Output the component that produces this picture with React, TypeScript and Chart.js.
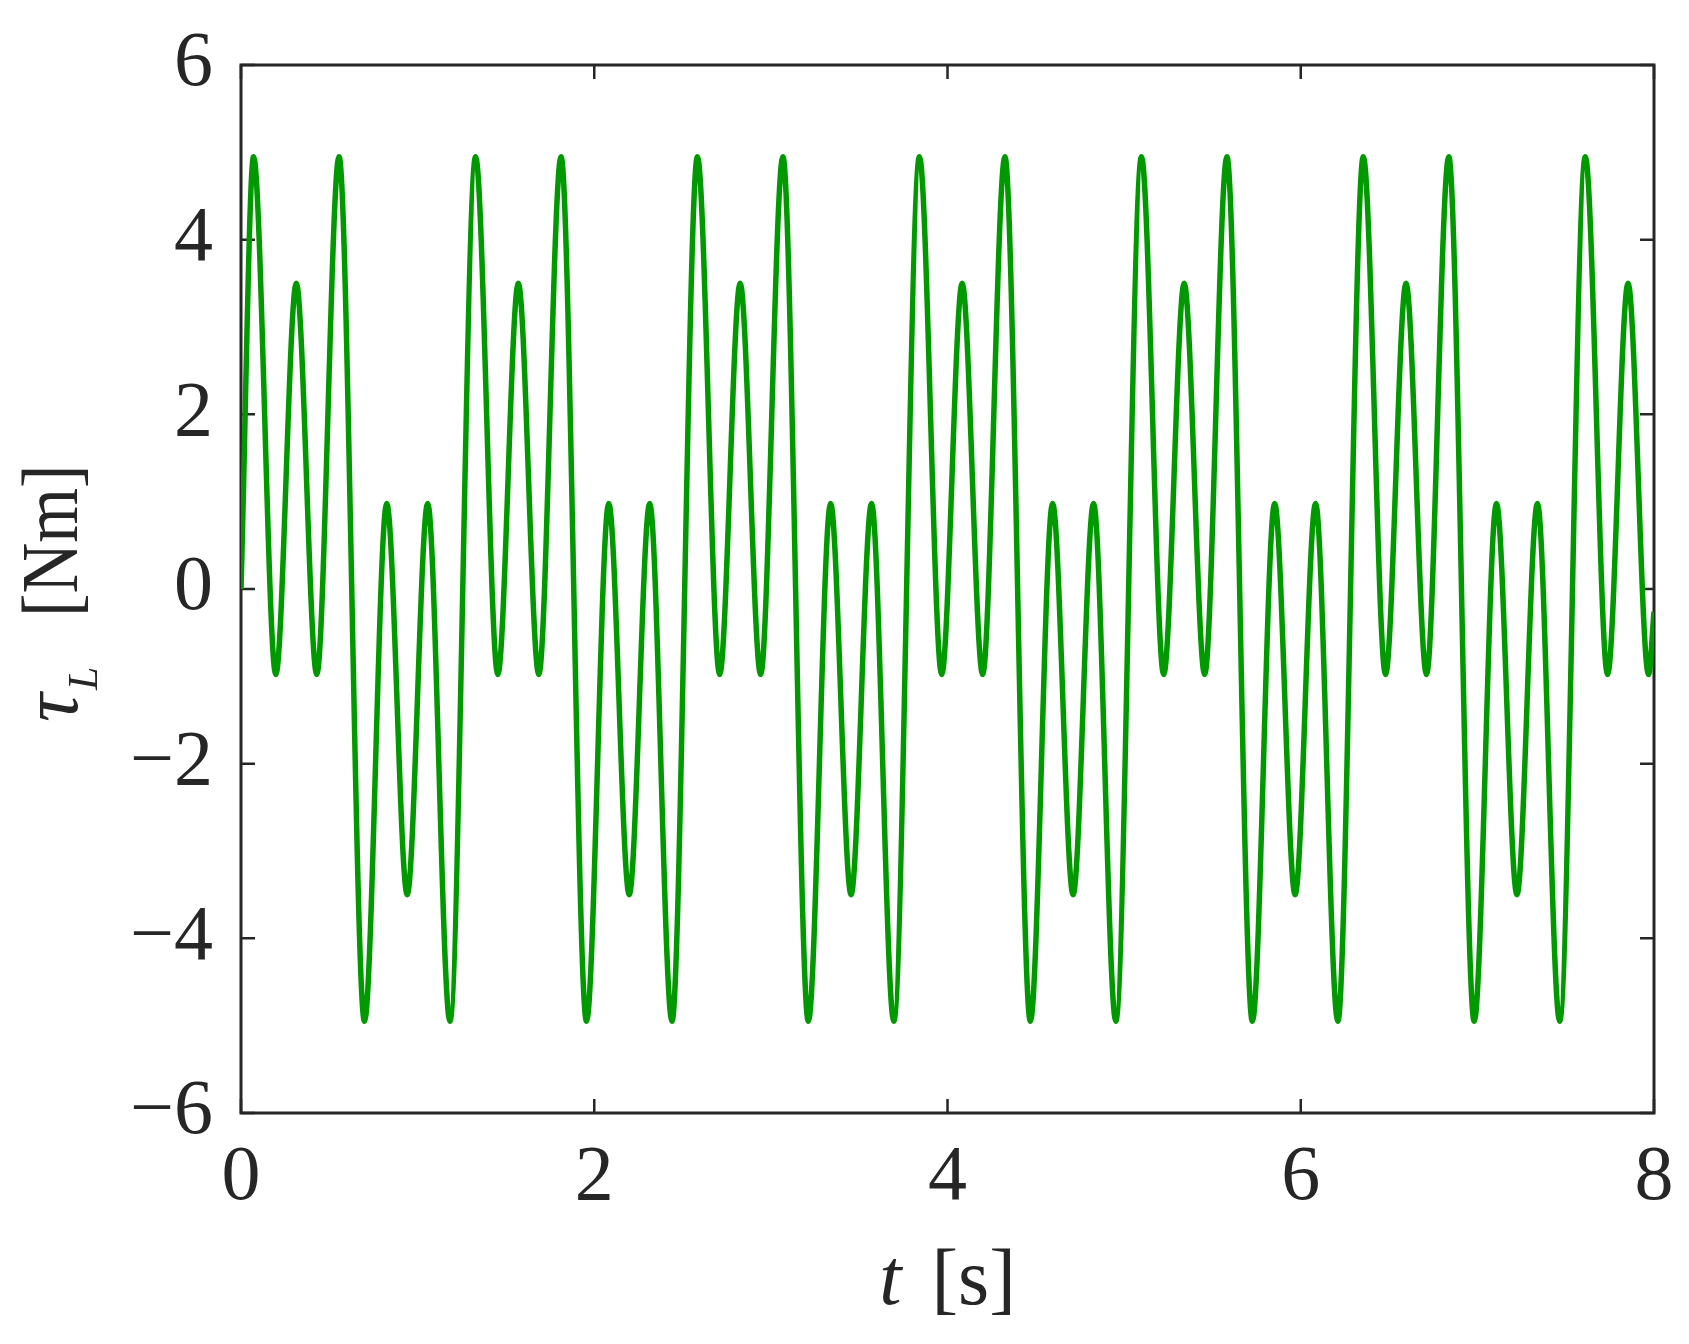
import React, { useEffect, useRef } from "react";
import { Chart, registerables } from "chart.js";

Chart.register(...registerables);

// time instants [s] of the curve's turning points
const timeS = [
  0,
  0.071, 0.197, 0.313, 0.429, 0.555, 0.699, 0.825, 0.941, 1.057, 1.183,
  1.328, 1.454, 1.570, 1.686, 1.812, 1.956, 2.082, 2.198, 2.314, 2.440,
  2.584, 2.710, 2.826, 2.942, 3.068, 3.212, 3.338, 3.454, 3.570, 3.696,
  3.841, 3.967, 4.083, 4.199, 4.325, 4.469, 4.595, 4.711, 4.827, 4.953,
  5.098, 5.224, 5.340, 5.456, 5.582, 5.726, 5.852, 5.968, 6.084, 6.210,
  6.354, 6.480, 6.596, 6.712, 6.838, 6.982, 7.108, 7.224, 7.340, 7.466,
  7.611, 7.737, 7.853, 7.969,
  8.0,
];

// load torque tau_L [Nm] at those instants
const torqueNm = [
  0,
  4.95, -0.98, 3.5, -0.98, 4.95, -4.95, 0.98, -3.5, 0.98, -4.95,
  4.95, -0.98, 3.5, -0.98, 4.95, -4.95, 0.98, -3.5, 0.98, -4.95,
  4.95, -0.98, 3.5, -0.98, 4.95, -4.95, 0.98, -3.5, 0.98, -4.95,
  4.95, -0.98, 3.5, -0.98, 4.95, -4.95, 0.98, -3.5, 0.98, -4.95,
  4.95, -0.98, 3.5, -0.98, 4.95, -4.95, 0.98, -3.5, 0.98, -4.95,
  4.95, -0.98, 3.5, -0.98, 4.95, -4.95, 0.98, -3.5, 0.98, -4.95,
  4.95, -0.98, 3.5, -0.98,
  -0.26,
];

const xTicks = [0, 2, 4, 6, 8];
const yTicks = [-6, -4, -2, 0, 2, 4, 6];

const FONT = '"Liberation Serif", "DejaVu Serif", serif';
const INK = "#262626";

const fmt = (v: number) => (v < 0 ? "\u2212" + Math.abs(v) : String(v));

const framePlugin = {
  id: "frame",
  beforeDatasetsDraw(chart: any) {
    const { ctx, chartArea: a, scales } = chart;
    ctx.save();
    ctx.strokeStyle = INK;
    ctx.lineWidth = 2.5;
    const tl = 14;
    for (const v of xTicks) {
      const px = scales.x.getPixelForValue(v);
      ctx.beginPath();
      ctx.moveTo(px, a.bottom);
      ctx.lineTo(px, a.bottom - tl);
      ctx.moveTo(px, a.top);
      ctx.lineTo(px, a.top + tl);
      ctx.stroke();
    }
    for (const v of yTicks) {
      const py = scales.y.getPixelForValue(v);
      ctx.beginPath();
      ctx.moveTo(a.left, py);
      ctx.lineTo(a.left + tl, py);
      ctx.moveTo(a.right, py);
      ctx.lineTo(a.right - tl, py);
      ctx.stroke();
    }
    ctx.lineWidth = 3;
    ctx.strokeRect(a.left, a.top, a.right - a.left, a.bottom - a.top);
    ctx.restore();
  },
  afterDraw(chart: any) {
    const { ctx, chartArea: a } = chart;
    ctx.save();
    ctx.fillStyle = INK;
    ctx.textBaseline = "alphabetic";
    // x title: italic t, upright [s]
    const italic = `italic 80px ${FONT}`;
    const upright = `80px ${FONT}`;
    ctx.font = italic;
    const wT = ctx.measureText("t").width;
    ctx.font = upright;
    const wS = ctx.measureText("[s]").width;
    const gap = 30;
    const total = wT + gap + wS;
    const cx = (a.left + a.right) / 2;
    const bx = 1304;
    const x0 = cx - total / 2;
    ctx.font = italic;
    ctx.textAlign = "left";
    ctx.fillText("t", x0, bx);
    ctx.font = upright;
    ctx.fillText("[s]", x0 + wT + gap, bx);

    // y title: tau_L [Nm], rotated (text x runs upward: canvas y = -u)
    ctx.translate(77, 0);
    ctx.rotate(-Math.PI / 2);
    ctx.textAlign = "left";
    ctx.font = italic;
    ctx.fillText("\u03C4", -722, 0);
    ctx.font = `italic 42px ${FONT}`;
    ctx.fillText("L", -690, 20);
    ctx.font = upright;
    ctx.save();
    ctx.translate(-617, 0);
    ctx.scale(0.88, 1);
    ctx.fillText("[Nm]", 0, 0);
    ctx.restore();
    ctx.restore();
  },
};

export default function App() {
  const ref = useRef<HTMLCanvasElement | null>(null);

  useEffect(() => {
    document.body.style.margin = "0";
    document.body.style.overflow = "hidden";
    const canvas = ref.current;
    if (!canvas) return;
    const points = timeS.map((t, i) => ({ x: t, y: torqueNm[i] }));
    const chart = new Chart(canvas, {
      type: "line",
      data: {
        datasets: [
          {
            data: points,
            borderColor: "#009900",
            borderWidth: 5.5,
            pointRadius: 0,
            fill: false,
            cubicInterpolationMode: "monotone",
          },
        ],
      },
      options: {
        responsive: false,
        animation: false,
        devicePixelRatio: 1,
        layout: { padding: { top: 65, right: 35, left: 0, bottom: 0 } },
        plugins: { legend: { display: false }, tooltip: { enabled: false } },
        scales: {
          x: {
            type: "linear",
            min: 0,
            max: 8,
            afterBuildTicks: (s: any) => {
              s.ticks = xTicks.map((v) => ({ value: v }));
            },
            afterFit: (s: any) => {
              s.height = 231;
              s.paddingLeft = 0;
              s.paddingRight = 0;
              s.paddingTop = 0;
              s.paddingBottom = 0;
            },
            grid: { display: false, drawTicks: false },
            border: { display: false },
            ticks: {
              color: INK,
              font: { family: FONT, size: 78 },
              padding: 19,
              maxRotation: 0,
              callback: (v: any) => fmt(Number(v)),
            },
          },
          y: {
            type: "linear",
            min: -6,
            max: 6,
            afterBuildTicks: (s: any) => {
              s.ticks = yTicks.map((v) => ({ value: v }));
            },
            afterFit: (s: any) => {
              s.width = 241;
              s.paddingLeft = 0;
              s.paddingRight = 0;
              s.paddingTop = 0;
              s.paddingBottom = 0;
            },
            grid: { display: false, drawTicks: false },
            border: { display: false },
            ticks: {
              color: INK,
              font: { family: FONT, size: 78 },
              padding: 28,
              callback: (v: any) => fmt(Number(v)),
            },
          },
        },
      },
      plugins: [framePlugin],
    } as any);
    return () => chart.destroy();
  }, []);

  return (
    <div style={{ width: 1689, height: 1344, background: "#fff" }}>
      <canvas ref={ref} width={1689} height={1344} style={{ display: "block" }} />
    </div>
  );
}
